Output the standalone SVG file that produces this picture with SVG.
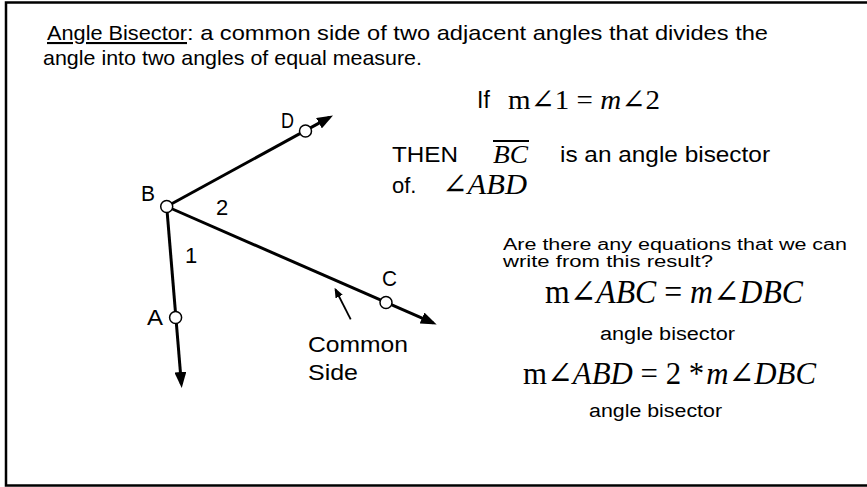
<svg xmlns="http://www.w3.org/2000/svg" width="867" height="487" viewBox="0 0 867 487">
<style>
.s{font-family:"Liberation Sans",Arial,sans-serif;fill:#000}
.m{font-family:"Liberation Serif","DejaVu Serif",serif;fill:#000}
.i{font-style:italic}
.ray{stroke:#000;stroke-width:3;fill:none}
.pt{fill:#fff;stroke:#000;stroke-width:1.5}
</style>
<defs>
<marker id="ah" markerUnits="userSpaceOnUse" markerWidth="16" markerHeight="12" refX="12" refY="6" orient="auto">
<path d="M0,0 L16,6 L0,12 z" fill="#000"/>
</marker>
<marker id="ahs" markerUnits="userSpaceOnUse" markerWidth="10" markerHeight="8" refX="8" refY="4" orient="auto">
<path d="M0,0 L10,4 L0,8 z" fill="#000"/>
</marker>
</defs>
<rect x="6" y="2.5" width="870" height="483" fill="#fff" stroke="#000" stroke-width="2.5"/>

<g id="header">
<text class="s" x="47" y="40" font-size="21" textLength="140" lengthAdjust="spacingAndGlyphs" text-decoration="underline">Angle Bisector</text>
<text class="s" x="187" y="40" font-size="21" textLength="581" lengthAdjust="spacingAndGlyphs">: a common side of two adjacent angles that divides the</text>
<text class="s" x="43" y="65" font-size="21" textLength="379" lengthAdjust="spacingAndGlyphs">angle into two angles of equal measure.</text>
</g>

<g id="connectors">
<line class="ray" x1="166.7" y1="206.5" x2="329.5" y2="117.4" marker-end="url(#ah)"/>
<line class="ray" x1="166.7" y1="206.5" x2="181.4" y2="384" marker-end="url(#ah)"/>
<line class="ray" x1="166.7" y1="206.5" x2="433" y2="322.9" marker-end="url(#ah)"/>
<line x1="350.7" y1="319.3" x2="335.5" y2="289.5" stroke="#000" stroke-width="1.8" marker-end="url(#ahs)"/>
</g>

<g id="point-B">
<circle class="pt" cx="166.7" cy="206.5" r="6"/>
<text class="s" x="141" y="201" font-size="22" textLength="14" lengthAdjust="spacingAndGlyphs">B</text>
</g>
<g id="point-D">
<circle class="pt" cx="305.5" cy="131" r="6"/>
<text class="s" x="281" y="127.5" font-size="22" textLength="13" lengthAdjust="spacingAndGlyphs">D</text>
</g>
<g id="point-A">
<circle class="pt" cx="175.6" cy="317.5" r="6"/>
<text class="s" x="147" y="325" font-size="22" textLength="16" lengthAdjust="spacingAndGlyphs">A</text>
</g>
<g id="point-C">
<circle class="pt" cx="386" cy="302.5" r="6"/>
<text class="s" x="382" y="286" font-size="22" textLength="15" lengthAdjust="spacingAndGlyphs">C</text>
</g>
<g id="angle-labels">
<text class="s" x="216" y="215" font-size="22">2</text>
<text class="s" x="185" y="263" font-size="22">1</text>
</g>
<g id="common-side">
<text class="s" x="308" y="352" font-size="22" textLength="100" lengthAdjust="spacingAndGlyphs">Common</text>
<text class="s" x="308" y="380" font-size="22" textLength="50" lengthAdjust="spacingAndGlyphs">Side</text>
</g>

<g id="if-line">
<text class="s" x="477" y="108" font-size="23">If</text>
<text class="m" x="508" y="108.5" font-size="28" textLength="152" lengthAdjust="spacingAndGlyphs">m∠1 = <tspan class="i">m</tspan>∠2</text>
</g>
<g id="then-line">
<text class="s" x="392" y="162" font-size="22" textLength="66" lengthAdjust="spacingAndGlyphs">THEN</text>
<text class="m i" x="493" y="163" font-size="25" textLength="35" lengthAdjust="spacingAndGlyphs">BC</text>
<line x1="493" y1="141" x2="529" y2="141" stroke="#000" stroke-width="2"/>
<text class="s" x="560" y="162" font-size="22" textLength="210" lengthAdjust="spacingAndGlyphs">is an angle bisector</text>
<text class="s" x="392" y="193" font-size="22">of.</text>
<text class="m i" x="442" y="194" font-size="29" textLength="85" lengthAdjust="spacingAndGlyphs">∠ABD</text>
</g>
<g id="question">
<text class="s" x="503" y="250" font-size="16" textLength="344" lengthAdjust="spacingAndGlyphs">Are there any equations that we can</text>
<text class="s" x="503" y="267" font-size="16" textLength="210" lengthAdjust="spacingAndGlyphs">write from this result?</text>
</g>
<g id="equation-1">
<text class="m" x="545" y="303" font-size="33" textLength="258" lengthAdjust="spacingAndGlyphs">m∠<tspan class="i">ABC</tspan> = <tspan class="i">m</tspan>∠<tspan class="i">DBC</tspan></text>
<text class="s" x="600" y="340" font-size="18" textLength="135" lengthAdjust="spacingAndGlyphs">angle bisector</text>
</g>
<g id="equation-2">
<text class="m" x="523" y="384" font-size="32" textLength="293" lengthAdjust="spacingAndGlyphs">m∠<tspan class="i">ABD</tspan> = 2 *<tspan class="i" dx="2">m</tspan>∠<tspan class="i">DBC</tspan></text>
<text class="s" x="589" y="417" font-size="18" textLength="133" lengthAdjust="spacingAndGlyphs">angle bisector</text>
</g>
</svg>
